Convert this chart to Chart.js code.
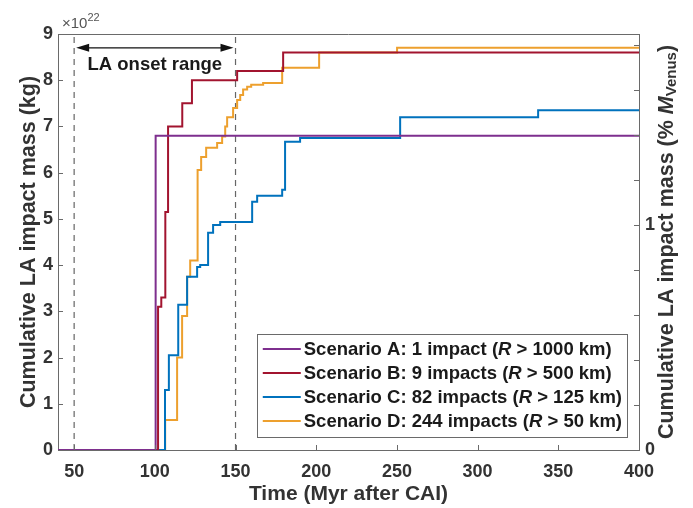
<!DOCTYPE html>
<html>
<head>
<meta charset="utf-8">
<script src="https://cdn.jsdelivr.net/npm/chart.js@4.4.0/dist/chart.umd.min.js"></script>
<style>
html, body { margin: 0; padding: 0; background: #fff; }
canvas { display: block; }
</style>
</head>
<body>
<canvas id="chart" width="693" height="508"></canvas>
<script>
// impact times (Myr after CAI) and cumulative LA impact mass (x10^22 kg)
const timesA = [40, 100.5, 400]
const massA  = [0, 6.8, 6.8]

const timesB = [40, 102, 104, 106.5, 108.2, 117, 123, 151, 179.5, 400]
const massB  = [0, 3.1, 3.3, 5.15, 7.0, 7.5, 8.0, 8.2, 8.6, 8.6]

const timesC = [40, 106.3, 108.7, 114.5, 120, 126.2, 128.1, 133, 136.1, 140.5, 160.3, 163.4, 178.9, 180.7, 190, 252, 337.5, 400]
const massC  = [0, 1.3, 2.05, 3.14, 3.75, 3.96, 4.0, 4.7, 4.87, 4.93, 5.37, 5.5, 5.63, 6.67, 6.75, 7.2, 7.35, 7.35]

const timesD = [40, 106.4, 113.8, 116.9, 120, 121.9, 126.5, 128.7, 131.8, 138.6, 141.7, 143.6, 144.8, 148.5, 151, 152.9, 154.7, 157.2, 159.7, 167.1, 178.9, 201.8, 250.1, 400]
const massD  = [0, 0.65, 2.0, 2.9, 3.75, 4.1, 6.06, 6.34, 6.54, 6.64, 6.78, 7.0, 7.2, 7.4, 7.57, 7.68, 7.8, 7.86, 7.9, 7.94, 8.27, 8.6, 8.7, 8.7]

const scenarios    = ['A', 'B', 'C', 'D']
const impactCounts = [1, 9, 82, 244]
const minRadiusKm  = [1000, 500, 125, 50]
const colors       = ['#7E2F8E', '#A2142F', '#0072BD', '#EDA02E']

const xTicks   = [50, 100, 150, 200, 250, 300, 350, 400]
const yTicks   = [0, 1, 2, 3, 4, 5, 6, 7, 8, 9]
const y2Ticks  = [0, 0.2, 0.4, 0.6, 0.8, 1, 1.2, 1.4, 1.6, 1.8]
const y2Labels = [0, 1]
const onsetRange = [50, 150]
const venusPct = 4.867   // 1 % of Venus mass, in 10^22 kg

const FONT = '"Liberation Sans", Arial, Helvetica, sans-serif'
const TEXT = '#333'
const AXIS = '#6a6a6a'

const series = [[timesA, massA], [timesB, massB], [timesC, massC], [timesD, massD]]

const datasets = series.map(([t, m], i) => ({
    label: 'Scenario ' + scenarios[i],
    data: t.map((v, j) => ({ x: v, y: m[j] })),
    borderColor: colors[i],
    borderWidth: 2,
    stepped: true,
    pointRadius: 0,
    fill: false,
    borderJoinStyle: 'miter',
    yAxisID: 'y'
}))
onsetRange.forEach(v => datasets.push({
    label: 'onset ' + v,
    data: [{ x: v, y: 0 }, { x: v, y: 9 }],
    borderColor: '#666',
    borderWidth: 1.2,
    borderDash: [6, 5],
    pointRadius: 0,
    yAxisID: 'y'
}))

function drawRich(ctx, parts, x, y, align) {
    let w = 0
    parts.forEach(p => { ctx.font = p.font; w += ctx.measureText(p.text).width })
    let cx = align === 'center' ? x - w / 2 : x
    parts.forEach(p => {
        ctx.font = p.font
        ctx.fillText(p.text, cx, y + (p.dy || 0))
        cx += ctx.measureText(p.text).width
    })
    return w
}

const deco = {
    id: 'deco',
    afterDatasetsDraw(chart) {
        const { ctx, chartArea: a, scales: { x, y } } = chart
        const y2 = chart.scales.y2
        ctx.save()

        // box top + inward ticks
        ctx.strokeStyle = AXIS
        ctx.lineWidth = 1
        ctx.beginPath()
        ctx.moveTo(a.left, a.top + 0.5); ctx.lineTo(a.right, a.top + 0.5)
        xTicks.forEach(v => {
            const px = Math.round(x.getPixelForValue(v)) + 0.5
            ctx.moveTo(px, a.bottom); ctx.lineTo(px, a.bottom - 5)
        })
        yTicks.forEach(v => {
            const py = Math.round(y.getPixelForValue(v)) + 0.5
            ctx.moveTo(a.left, py); ctx.lineTo(a.left + 5, py)
        })
        y2Ticks.forEach(v => {
            const py = Math.round(y2.getPixelForValue(v)) + 0.5
            ctx.moveTo(a.right, py); ctx.lineTo(a.right - 5, py)
        })
        ctx.stroke()

        // onset range arrow
        const ay = y.getPixelForValue(8.7)
        const ax1 = x.getPixelForValue(onsetRange[0]) + 2
        const ax2 = x.getPixelForValue(onsetRange[1]) - 2
        ctx.strokeStyle = '#111'
        ctx.fillStyle = '#111'
        ctx.lineWidth = 1.3
        ctx.beginPath(); ctx.moveTo(ax1 + 8, ay); ctx.lineTo(ax2 - 8, ay); ctx.stroke()
        ctx.beginPath()
        ctx.moveTo(ax1, ay); ctx.lineTo(ax1 + 13, ay - 4); ctx.lineTo(ax1 + 13, ay + 4); ctx.closePath()
        ctx.moveTo(ax2, ay); ctx.lineTo(ax2 - 13, ay - 4); ctx.lineTo(ax2 - 13, ay + 4); ctx.closePath()
        ctx.fill()

        ctx.fillStyle = '#1a1a1a'
        ctx.font = 'bold 18.5px ' + FONT
        ctx.textAlign = 'center'
        ctx.textBaseline = 'middle'
        ctx.fillText('LA onset range', x.getPixelForValue(100), y.getPixelForValue(8.33))

        // exponent label
        ctx.textAlign = 'left'
        ctx.textBaseline = 'alphabetic'
        ctx.fillStyle = '#555'
        drawRich(ctx, [
            { text: '\u00d710', font: '15px ' + FONT },
            { text: '22', font: '11px ' + FONT, dy: -7 }
        ], a.left + 4, a.top - 6, 'left')

        // legend
        const rowH = 24
        const legFont = 'bold 18.5px ' + FONT
        const legItal = 'italic bold 18.5px ' + FONT
        const rows = scenarios.map((s, i) => [
            { text: 'Scenario ' + s + ': ' + impactCounts[i] + (impactCounts[i] === 1 ? ' impact (' : ' impacts ('), font: legFont },
            { text: 'R', font: legItal },
            { text: ' > ' + minRadiusKm[i] + ' km)', font: legFont }
        ])
        let maxW = 0
        rows.forEach(parts => {
            let w = 0
            parts.forEach(p => { ctx.font = p.font; w += ctx.measureText(p.text).width })
            maxW = Math.max(maxW, w)
        })
        const bw = 48 + maxW + 4
        const bh = rowH * 4 + 7
        const bx = a.right - 12 - bw
        const by = a.bottom - 13 - bh
        ctx.fillStyle = '#fff'
        ctx.fillRect(bx, by, bw, bh)
        ctx.strokeStyle = AXIS
        ctx.lineWidth = 1
        ctx.strokeRect(Math.round(bx) + 0.5, Math.round(by) + 0.5, Math.round(bw), Math.round(bh))
        ctx.textBaseline = 'middle'
        rows.forEach((parts, i) => {
            const ry = by + 15 + i * rowH
            ctx.strokeStyle = colors[i]
            ctx.lineWidth = 2
            ctx.beginPath(); ctx.moveTo(bx + 6, ry); ctx.lineTo(bx + 44, ry); ctx.stroke()
            ctx.fillStyle = '#1a1a1a'
            drawRich(ctx, parts, bx + 47, ry + 1, 'left')
        })

        // axis titles
        const midY = (a.top + a.bottom) / 2
        const titleFont = 'bold 21.5px ' + FONT
        ctx.fillStyle = TEXT
        ctx.textBaseline = 'middle'
        ctx.textAlign = 'left'
        ctx.save()
        ctx.translate(29, midY)
        ctx.rotate(-Math.PI / 2)
        drawRich(ctx, [{ text: 'Cumulative LA impact mass (kg)', font: titleFont }], 0, 0, 'center')
        ctx.restore()

        ctx.save()
        ctx.translate(667, midY)
        ctx.rotate(-Math.PI / 2)
        drawRich(ctx, [
            { text: 'Cumulative LA impact mass (% ', font: titleFont },
            { text: 'M', font: 'italic ' + titleFont },
            { text: 'Venus', font: 'bold 15px ' + FONT, dy: 5 },
            { text: ')', font: titleFont }
        ], 0, 0, 'center')
        ctx.restore()

        drawRich(ctx, [{ text: 'Time (Myr after CAI)', font: 'bold 21px ' + FONT }], (a.left + a.right) / 2, 494, 'center')
        ctx.restore()
    }
}

const tickFont = { family: FONT, size: 18, weight: 'bold' }

new Chart(document.getElementById('chart'), {
    type: 'line',
    data: { datasets },
    options: {
        responsive: false,
        animation: false,
        devicePixelRatio: 1,
        layout: { padding: { top: 34, left: 0, right: 0, bottom: 0 } },
        plugins: { legend: { display: false }, tooltip: { enabled: false } },
        scales: {
            x: {
                type: 'linear',
                min: 40, max: 400,
                afterBuildTicks: sc => { sc.ticks = xTicks.map(v => ({ value: v })) },
                afterFit: sc => { sc.height = 58 },
                grid: { display: false, drawTicks: false },
                border: { display: true, color: AXIS, width: 1 },
                ticks: { font: tickFont, color: TEXT, padding: 11, autoSkip: false, maxRotation: 0 }
            },
            y: {
                position: 'left',
                min: 0, max: 9,
                afterBuildTicks: sc => { sc.ticks = yTicks.map(v => ({ value: v })) },
                afterFit: sc => { sc.width = 58 },
                grid: { display: false, drawTicks: false },
                border: { display: true, color: AXIS, width: 1 },
                ticks: { font: tickFont, color: TEXT, padding: 5, autoSkip: false }
            },
            y2: {
                position: 'right',
                min: 0, max: 9 / venusPct,
                afterBuildTicks: sc => { sc.ticks = y2Ticks.map(v => ({ value: v })) },
                afterFit: sc => { sc.width = 54 },
                grid: { display: false, drawTicks: false },
                border: { display: true, color: AXIS, width: 1 },
                ticks: {
                    font: tickFont, color: TEXT, padding: 6, autoSkip: false,
                    callback: v => y2Labels.includes(Math.round(v * 10) / 10) ? String(Math.round(v)) : ''
                }
            }
        }
    },
    plugins: [deco]
})
</script>
</body>
</html>
